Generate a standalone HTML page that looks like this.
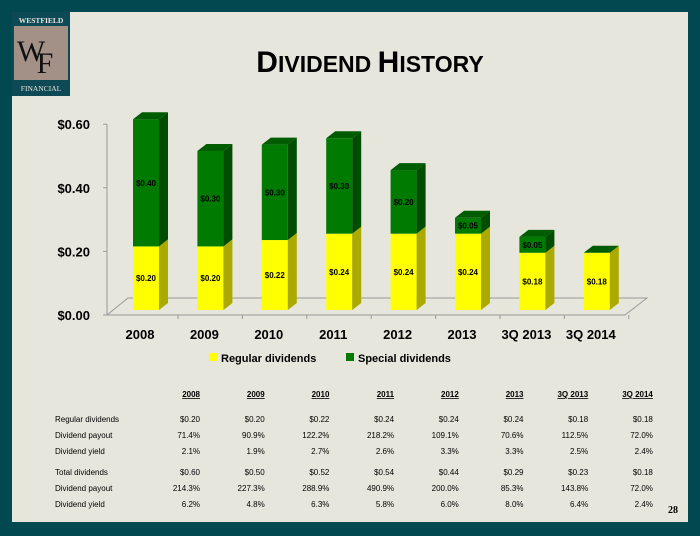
<!DOCTYPE html>
<html><head><meta charset="utf-8"><style>
body{margin:0;width:700px;height:536px;background:#014851;overflow:hidden;font-family:"Liberation Sans",sans-serif}
#panel{position:absolute;left:12px;top:12px;width:676px;height:510px;background:#e6e6dc}
</style></head><body>
<div id="panel"></div>
<svg width="700" height="536" style="position:absolute;left:0;top:0">
<g>
<rect x="12" y="12" width="58" height="84" fill="#0e4a55"/>
<rect x="14" y="26" width="54" height="54" fill="#a39188"/>
<text x="41" y="23" font-family="Liberation Serif" font-size="7.5" font-weight="bold" fill="#e6e6dc" text-anchor="middle">WESTFIELD</text>
<text x="41" y="91" font-family="Liberation Serif" font-size="7.5" fill="#e6e6dc" text-anchor="middle">FINANCIAL</text>
<text x="31" y="61" font-family="Liberation Serif" font-size="30" fill="#111" text-anchor="middle">W</text>
<text x="45" y="73" font-family="Liberation Serif" font-size="30" fill="#111" text-anchor="middle">F</text>
</g>
<text x="370" y="72" text-anchor="middle" font-weight="bold" fill="#000"><tspan font-size="30">D</tspan><tspan font-size="23">IVIDEND </tspan><tspan font-size="30">H</tspan><tspan font-size="23">ISTORY</tspan></text>
<g id="chart"></g>
<g id="table"></g>
<text x="668" y="513" font-family="Liberation Serif" font-size="10" font-weight="bold">28</text>
</svg>
<script>
const categories=["2008","2009","2010","2011","2012","2013","3Q 2013","3Q 2014"];
const regular=[0.20,0.20,0.22,0.24,0.24,0.24,0.18,0.18];
const special=[0.40,0.30,0.30,0.30,0.20,0.05,0.05,0];
const regLabels=["$0.20","$0.20","$0.22","$0.24","$0.24","$0.24","$0.18","$0.18"];
const specLabels=["$0.40","$0.30","$0.30","$0.30","$0.20","$0.05","$0.05",""];
const yTicks=[0,0.2,0.4,0.6];
const yTickLabels=["$0.00","$0.20","$0.40","$0.60"];
const tableRows=[
["Regular dividends","$0.20","$0.20","$0.22","$0.24","$0.24","$0.24","$0.18","$0.18"],
["Dividend payout","71.4%","90.9%","122.2%","218.2%","109.1%","70.6%","112.5%","72.0%"],
["Dividend yield","2.1%","1.9%","2.7%","2.6%","3.3%","3.3%","2.5%","2.4%"],
null,
["Total dividends","$0.60","$0.50","$0.52","$0.54","$0.44","$0.29","$0.23","$0.18"],
["Dividend payout","214.3%","227.3%","288.9%","490.9%","200.0%","85.3%","143.8%","72.0%"],
["Dividend yield","6.2%","4.8%","6.3%","5.8%","6.0%","8.0%","6.4%","2.4%"]];
const NS="http://www.w3.org/2000/svg";
function mk(p,t,a,txt){const e=document.createElementNS(NS,t);for(const k in a)e.setAttribute(k,a[k]);if(txt!==undefined)e.textContent=txt;p.appendChild(e);return e;}
const chart=document.getElementById('chart');
const axisY=v=>315-v*318; // axis scale
const barY=v=>310-v*318;
const xc=i=>146+i*64.4;
const W=26,D=9,U=7;
// floor
mk(chart,'polygon',{points:"107,315 128,298 647,298 625,315",fill:"none",stroke:"#999","stroke-width":1});
mk(chart,'line',{x1:107,y1:315,x2:107,y2:axisY(0.6),stroke:"#999"});
yTicks.forEach((t,i)=>{
 mk(chart,'line',{x1:103,y1:axisY(t),x2:107,y2:axisY(t),stroke:"#999"});
 const l=mk(chart,'text',{x:90,y:axisY(t)+5,"text-anchor":"end","font-size":13,"font-weight":"bold"},yTickLabels[i]);
 
 
});
function box(g,x,y0,y1,front,side){
 mk(g,'rect',{x:x,y:y1,width:W,height:y0-y1,fill:front});
 mk(g,'polygon',{points:`${x+W},${y0} ${x+W+D},${y0-U} ${x+W+D},${y1-U} ${x+W},${y1}`,fill:side});
}
categories.forEach((c,i)=>{
 const g=mk(chart,'g',{});
 
 
 const x=xc(i)-W/2;
 const yr=barY(regular[i]),yt=barY(regular[i]+special[i]);
 box(g,x,310,yr,"#ffff00","#aaaa00");
 if(special[i]>0)box(g,x,yr,yt,"#007a00","#004d00");
 mk(g,'polygon',{points:`${x},${yt} ${x+D},${yt-U} ${x+W+D},${yt-U} ${x+W},${yt}`,fill:"#005c00"});
 mk(g,'text',{x:xc(i),y:(310+yr)/2+3,"text-anchor":"middle","font-size":8,"font-weight":"bold"},regLabels[i]);
 if(specLabels[i])mk(g,'text',{x:xc(i),y:(yr+yt)/2+3,"text-anchor":"middle","font-size":8,"font-weight":"bold"},specLabels[i]);
 mk(chart,'line',{x1:xc(i)+32,y1:315,x2:xc(i)+32,y2:319,stroke:"#999"});
 const l=mk(chart,'text',{x:xc(i)-6,y:339,"text-anchor":"middle","font-size":13,"font-weight":"bold"},c);
 
 
});
const lg=mk(chart,'g',{});


mk(lg,'rect',{x:209,y:353,width:8,height:8,fill:"#ffff00"});
mk(lg,'text',{x:221,y:362,"font-size":11,"font-weight":"bold"},"Regular dividends");
mk(lg,'rect',{x:346,y:353,width:8,height:8,fill:"#007a00"});
mk(lg,'text',{x:358,y:362,"font-size":11,"font-weight":"bold"},"Special dividends");
const tb=document.getElementById('table');
const colR=i=>200+i*64.7;
categories.forEach((c,i)=>{
 mk(tb,'text',{x:colR(i),y:397,"text-anchor":"end","font-size":8,"font-weight":"bold","text-decoration":"underline"},c);
});
const rowY=[422,438,454,0,475,491,507];
tableRows.forEach((r,ri)=>{
 if(!r)return;
 mk(tb,'text',{x:55,y:rowY[ri],"font-size":8},r[0]);
 for(let j=1;j<r.length;j++)mk(tb,'text',{x:colR(j-1),y:rowY[ri],"text-anchor":"end","font-size":8},r[j]);
});
</script>
</body></html>
